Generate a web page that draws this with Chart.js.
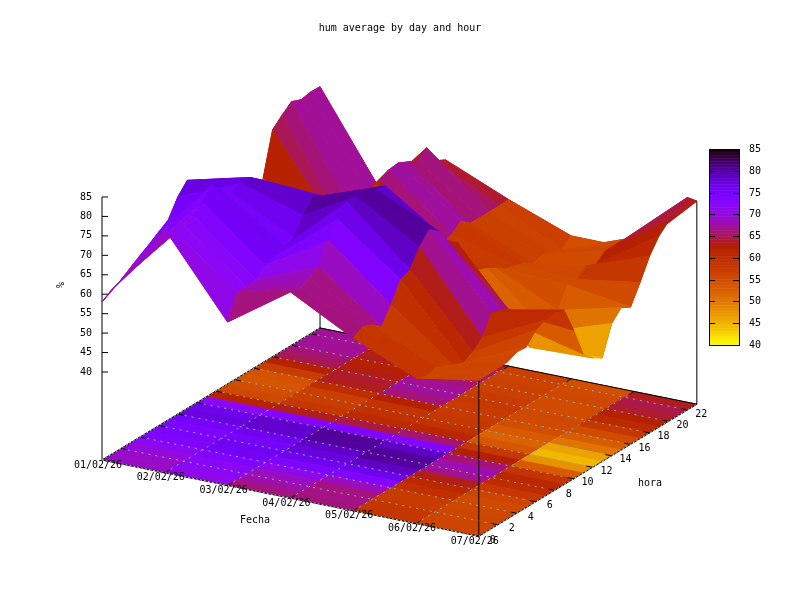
<!DOCTYPE html>
<html>
<head>
<meta charset="utf-8">
<title>hum average by day and hour</title>
<script src="https://cdn.jsdelivr.net/npm/chart.js@4"></script>
<style>
  html, body { margin: 0; padding: 0; background: #fff; }
  canvas { display: block; }
</style>
</head>
<body>
<canvas id="humChart" width="800" height="600"></canvas>
<script>
const fechas = ['01/02/26', '02/02/26', '03/02/26', '04/02/26', '05/02/26', '06/02/26', '07/02/26'];
const horas = [0, 1, 2, 3, 4, 5, 6, 7, 8, 9, 10, 11, 12, 13, 14, 15, 16, 17, 18, 19, 20, 21, 22, 23];
const horaTicks = [0, 2, 4, 6, 8, 10, 12, 14, 16, 18, 20, 22];
const humTicks = [40, 45, 50, 55, 60, 65, 70, 75, 80, 85];

// humedad media por hora
const hum0102 = [58, 59.6, 60.7, 62.4, 64, 65.5, 67.2, 68.8, 73.2, 76, 72, 68, 56, 56, 54, 53, 56, 64.7, 75.7, 78, 80, 79, 79.5, 79.4];
const hum0202 = [80, 78, 78, 79, 81, 84, 81, 79.2, 80, 80, 78, 68, 55, 55, 54, 54, 54, 54, 54, 52, 54, 55, 54.5, 55];
const hum0302 = [59.4, 65.4, 65.5, 65.8, 68, 69, 69.9, 70.7, 75, 78.3, 77, 68, 62, 60, 59, 60, 72, 73.4, 73.7, 72.5, 71.3, 73.2, 68.4, 67.1];
const hum0402 = [70.4, 69.7, 70.8, 72.4, 77.8, 81.7, 84.7, 84.4, 84, 83.4, 82.9, 67, 60, 59, 58, 58, 59, 60, 62, 60, 60, 60, 60, 60.2];
const hum0502 = [61.8, 63.2, 62.2, 60.2, 64.4, 69.4, 70.5, 74.9, 77.8, 76, 72, 70, 65.5, 60, 59, 57.6, 56, 55.2, 54.5, 53, 53.6, 53, 52, 54.1];
const hum0602 = [54.8, 53.6, 54.4, 53.5, 52.2, 51.3, 52.6, 54.8, 59.7, 59, 57, 52, 45, 44, 46, 50, 55, 55, 57, 56, 58, 58, 58, 54];
const hum0702 = [57.5, 57.5, 57.6, 57.7, 58.8, 58.6, 61.5, 62.6, 63.2, 62.2, 55.6, 48, 45.5, 44, 51.4, 54, 52.7, 57.5, 62.8, 66.5, 68.8, 70.5, 72, 69.6];
const hum = [hum0102, hum0202, hum0302, hum0402, hum0502, hum0602, hum0702];

const zMin = 40, zMax = 85;
const zBase = 17.37; // nivel del suelo (ticslevel)
const font = '10px "DejaVu Sans Mono", monospace';

// proyeccion ortografica (view 70,30) al sistema de las escalas x/y
function proj(d, h, z) {
    return {
        x: 102 + 62.8 * d + 9.48 * h,
        y: 460 + 12.7 * d - 5.74 * h - (z - zBase) * 3.889
    };
}
function floorPt(d, h) { return proj(d, h, zBase); }

// paleta rgbformulae 7,5,15 negativa
function palette(z) {
    const g = Math.max(0, Math.min(1, (zMax - z) / (zMax - zMin)));
    const r = Math.sqrt(g);
    const gr = g * g * g;
    const b = Math.max(0, Math.sin(2 * Math.PI * g));
    return `rgb(${Math.round(r * 255)},${Math.round(gr * 255)},${Math.round(b * 255)})`;
}

function linea(points, color, width, dash) {
    return {
        data: points, showLine: true, pointRadius: 0, borderColor: color,
        borderWidth: width || 1, borderDash: dash || [], fill: false, tension: 0
    };
}

// celdas pm3d: color = media de las 4 esquinas
const celdas = [];
for (let d = 0; d < fechas.length - 1; d++) {
    for (let h = 0; h < horas.length - 1; h++) {
        const zs = [hum[d][h], hum[d + 1][h], hum[d + 1][h + 1], hum[d][h + 1]];
        const media = (zs[0] + zs[1] + zs[2] + zs[3]) / 4;
        celdas.push({
            color: palette(media),
            floor: [floorPt(d, h), floorPt(d + 1, h), floorPt(d + 1, h + 1), floorPt(d, h + 1)],
            top: [proj(d, h, zs[0]), proj(d + 1, h, zs[1]), proj(d + 1, h + 1, zs[2]), proj(d, h + 1, zs[3])],
            depth: -34 * (d + 0.5) + 15.4 * (h + 0.5) - 1.45 * media
        });
    }
}
celdas.sort((a, b) => b.depth - a.depth);

const lastD = fechas.length - 1, lastH = horas.length - 1;

// lineas: borde de la base, eje z, esquinas y contorno de la superficie
const datasets = [];
datasets.push(linea([floorPt(0, 0), floorPt(lastD, 0), floorPt(lastD, lastH), floorPt(0, lastH), floorPt(0, 0)], '#000'));
datasets.push(linea([floorPt(0, 0), proj(0, 0, zMax)], '#000'));
humTicks.forEach(t => {
    const p = proj(0, 0, t);
    datasets.push(linea([p, { x: p.x + 6, y: p.y }], '#000'));
});
[[lastD, 0], [lastD, lastH], [0, lastH]].forEach(c => {
    datasets.push(linea([floorPt(c[0], c[1]), proj(c[0], c[1], hum[c[0]][c[1]])], '#000'));
});
datasets.push(linea(hum[0].map((z, h) => proj(0, h, z)), '#ff0000'));
datasets.push(linea(hum.map((s, d) => proj(d, 0, s[0])), '#ff0000'));
datasets.push(linea(hum.map((s, d) => proj(d, lastH, s[lastH])), '#ff0000'));
datasets.push(linea(hum.map((s, d) => proj(d, 13, s[13])).slice(5), '#00c000'));
datasets.push(linea(hum0702.map((z, h) => proj(lastD, h, z)).slice(18), '#00c000'));
datasets.push(linea(hum0702.map((z, h) => proj(lastD, h, z)).slice(13, 19), '#ff0000'));

function poly(chart, pts) {
    const sx = chart.scales.x, sy = chart.scales.y, ctx = chart.ctx;
    ctx.beginPath();
    pts.forEach((p, i) => {
        const px = sx.getPixelForValue(p.x), py = sy.getPixelForValue(p.y);
        if (i === 0) ctx.moveTo(px, py); else ctx.lineTo(px, py);
    });
    ctx.closePath();
}

function seg(chart, a, b, color, dash) {
    const sx = chart.scales.x, sy = chart.scales.y, ctx = chart.ctx;
    ctx.save();
    ctx.strokeStyle = color;
    ctx.lineWidth = 1;
    ctx.setLineDash(dash || []);
    ctx.beginPath();
    ctx.moveTo(sx.getPixelForValue(a.x), sy.getPixelForValue(a.y));
    ctx.lineTo(sx.getPixelForValue(b.x), sy.getPixelForValue(b.y));
    ctx.stroke();
    ctx.restore();
}

const gridColor = '#8fb0a8';
const edgeColor = '#c0c0c0';

const pm3dPlugin = {
    id: 'pm3d',
    beforeDatasetsDraw(chart) {
        const ctx = chart.ctx;
        ctx.save();
        // mapa en la base
        celdas.forEach(c => {
            poly(chart, c.floor);
            ctx.fillStyle = c.color;
            ctx.strokeStyle = c.color;
            ctx.lineWidth = 1;
            ctx.fill();
            ctx.stroke();
        });
        ctx.restore();
        // rejilla punteada
        const dash = [2, 5];
        fechas.forEach((f, d) => seg(chart, floorPt(d, 0), floorPt(d, lastH), gridColor, dash));
        horaTicks.forEach(h => seg(chart, floorPt(0, h), floorPt(lastD, h), gridColor, dash));
    },
    afterDatasetsDraw(chart) {
        const ctx = chart.ctx;
        ctx.save();
        // marcas de los ejes de la base
        horaTicks.forEach(h => {
            seg(chart, floorPt(0, h), floorPt(0.1, h), '#000');
            seg(chart, floorPt(lastD, h), floorPt(lastD - 0.1, h), '#000');
        });
        fechas.forEach((f, d) => {
            seg(chart, floorPt(d, 0), floorPt(d, 0.5), '#000');
            seg(chart, floorPt(d, lastH), floorPt(d, lastH - 0.5), '#000');
        });
        // los bordes cercanos quedan punteados por la rejilla
        seg(chart, floorPt(0, 0), floorPt(lastD, 0), edgeColor, [2, 2]);
        seg(chart, floorPt(lastD, 0), floorPt(lastD, lastH), edgeColor, [2, 2]);
        seg(chart, floorPt(0, 0), floorPt(0, lastH), edgeColor, [2, 2]);
        // superficie, de atras hacia adelante
        celdas.forEach(c => {
            poly(chart, c.top);
            ctx.fillStyle = c.color;
            ctx.strokeStyle = c.color;
            ctx.lineWidth = 1;
            ctx.fill();
            ctx.stroke();
        });
        ctx.restore();
        drawColorbar(chart);
        drawLabels(chart);
    }
};

function drawColorbar(chart) {
    const ctx = chart.ctx, left = 709, right = 739, top = 149, bottom = 345;
    const steps = 128;
    ctx.save();
    for (let i = 0; i < steps; i++) {
        const z = zMax - (zMax - zMin) * (i + 0.5) / steps;
        const y0 = top + (bottom - top) * i / steps;
        ctx.fillStyle = palette(z);
        ctx.fillRect(left, y0, right - left, (bottom - top) / steps + 0.5);
    }
    ctx.strokeStyle = '#000';
    ctx.lineWidth = 1;
    ctx.strokeRect(left + 0.5, top + 0.5, right - left, bottom - top);
    ctx.font = font;
    ctx.fillStyle = '#000';
    ctx.textAlign = 'left';
    ctx.textBaseline = 'middle';
    humTicks.forEach(t => {
        const y = Math.round(bottom - (t - zMin) / (zMax - zMin) * (bottom - top)) + 0.5;
        ctx.beginPath();
        ctx.moveTo(left, y); ctx.lineTo(left + 6, y);
        ctx.moveTo(right - 6, y); ctx.lineTo(right, y);
        ctx.stroke();
        ctx.fillText(String(t), 749, y);
    });
    ctx.restore();
}

function drawLabels(chart) {
    const ctx = chart.ctx;
    ctx.save();
    ctx.font = font;
    ctx.fillStyle = '#000';
    ctx.textBaseline = 'middle';
    ctx.textAlign = 'right';
    humTicks.forEach(t => {
        const p = proj(0, 0, t);
        ctx.fillText(String(t), p.x - 10, p.y);
    });
    ctx.textAlign = 'center';
    fechas.forEach((f, d) => {
        const p = floorPt(d, 0);
        ctx.fillText(f, p.x - 4, p.y + 5);
    });
    horaTicks.forEach(h => {
        const p = floorPt(lastD, h);
        ctx.fillText(String(h), p.x + 14, p.y + 4);
    });
    ctx.fillText('Fecha', 255, 520);
    ctx.fillText('hora', 650, 483);
    ctx.translate(61, 285);
    ctx.rotate(-Math.PI / 2);
    ctx.fillText('%', 0, 0);
    ctx.restore();
}

new Chart(document.getElementById('humChart').getContext('2d'), {
    type: 'scatter',
    data: { datasets: datasets },
    options: {
        responsive: false,
        animation: false,
        layout: { padding: 0 },
        plugins: {
            legend: { display: false },
            tooltip: { enabled: false },
            title: {
                display: true,
                text: 'hum average by day and hour',
                color: '#000',
                font: { family: '"DejaVu Sans Mono", monospace', size: 10, weight: 'normal', lineHeight: 1.2 },
                padding: { top: 22, bottom: 6 }
            }
        },
        scales: {
            x: { type: 'linear', display: false, min: 0, max: 800 },
            y: { type: 'linear', display: false, min: 40, max: 600, reverse: true }
        }
    },
    plugins: [pm3dPlugin]
});
</script>
</body>
</html>
